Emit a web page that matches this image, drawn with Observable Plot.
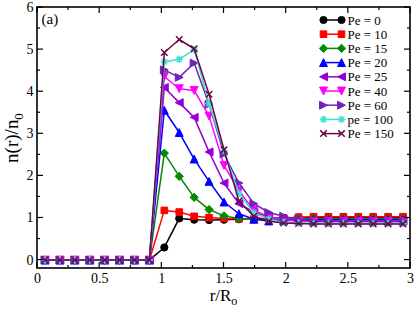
<!DOCTYPE html>
<html><head><meta charset="utf-8">
<script src="https://cdn.jsdelivr.net/npm/d3@7"></script>
<script src="https://cdn.jsdelivr.net/npm/@observablehq/plot@0.6"></script>
<style>html,body{margin:0;padding:0;background:#fff}svg{display:block}</style>
</head><body><div id="chart"></div>
<script>
// r/R_o sample positions
const rValues = [0.06,0.18,0.30,0.42,0.54,0.66,0.78,0.90,1.02,1.14,1.26,1.38,1.50,1.62,1.74,1.86,1.98,2.10,2.22,2.34,2.46,2.58,2.70,2.82,2.94];
const Z = [0,0,0,0,0,0,0,0];
const pe0   = [...Z, 0.30,0.99,0.96,0.95,0.96,0.97,0.98,0.99,1.00,1.01, 1.02,1.02,1.02,1.02,1.02,1.02,1.02];
const pe10  = [...Z, 1.18,1.14,1.04,1.01,0.99,0.98,0.98,0.99,1.00,1.02, 1.03,1.03,1.03,1.03,1.03,1.03,1.03];
const pe15  = [...Z, 2.54,1.99,1.49,1.20,1.05,0.99,0.97,0.96,0.97,0.98, 0.98,0.98,0.98,0.98,0.98,0.98,0.98];
const pe20  = [...Z, 3.56,3.03,2.40,1.87,1.38,1.10,0.97,0.93,0.94,0.95, 0.96,0.96,0.96,0.96,0.96,0.96,0.96];
const pe25  = [...Z, 4.10,3.74,3.39,2.57,1.83,1.34,1.14,1.02,0.96,0.94, 0.93,0.93,0.93,0.93,0.93,0.93,0.93];
const pe40  = [...Z, 4.36,4.07,4.03,3.42,2.25,1.65,1.18,1.03,0.95,0.92, 0.91,0.91,0.91,0.91,0.91,0.91,0.91];
const pe60  = [...Z, 4.52,4.34,4.68,3.70,2.52,1.83,1.34,1.13,1.04,0.96, 0.92,0.92,0.92,0.92,0.92,0.92,0.92];
const pe100 = [...Z, 4.71,4.77,5.00,3.72,2.60,1.58,1.12,0.97,0.90,0.88, 0.87,0.87,0.87,0.87,0.87,0.87,0.87];
const pe150 = [...Z, 4.93,5.24,5.02,3.94,2.62,1.40,1.04,0.92,0.88,0.87, 0.86,0.86,0.86,0.86,0.86,0.86,0.86];

const seriesLabels = ["Pe = 0","Pe = 10","Pe = 15","Pe = 20","Pe = 25","Pe = 40","Pe = 60","pe = 100","Pe = 150"];
const seriesValues = [pe0,pe10,pe15,pe20,pe25,pe40,pe60,pe100,pe150];
const seriesColors = ["#000000","#ff0000","#008b00","#0000ff","#9400d3","#ff00ff","#7221bc","#40e0d0","#670748"];
const seriesSymbols = ["circle","square","diamond","triangleUp","triangleLeft","triangleDown","triangleRight","asterisk","times"];

const xMajor = [0,0.5,1,1.5,2,2.5,3];
const xMinor = [0.25,0.75,1.25,1.75,2.25,2.75];
const yMajor = [0,1,2,3,4,5,6];
const yMinor = [0.5,1.5,2.5,3.5,4.5,5.5];

function makeSymbol(kind){
  return {draw(ctx, size){
    const h = Math.sqrt(size/Math.PI);
    switch(kind){
      case "circle": ctx.moveTo(h,0); ctx.arc(0,0,h,0,2*Math.PI); break;
      case "square": {const s=h*0.92; ctx.rect(-s,-s,2*s,2*s); break;}
      case "diamond": ctx.moveTo(0,-h*1.15); ctx.lineTo(h*1.15,0); ctx.lineTo(0,h*1.15); ctx.lineTo(-h*1.15,0); ctx.closePath(); break;
      case "triangleUp": ctx.moveTo(0,-h*1.1); ctx.lineTo(h*1.1,h*1.1); ctx.lineTo(-h*1.1,h*1.1); ctx.closePath(); break;
      case "triangleDown": ctx.moveTo(0,h*1.1); ctx.lineTo(h*1.1,-h*1.1); ctx.lineTo(-h*1.1,-h*1.1); ctx.closePath(); break;
      case "triangleLeft": ctx.moveTo(-h*1.1,0); ctx.lineTo(h*1.1,-h*1.1); ctx.lineTo(h*1.1,h*1.1); ctx.closePath(); break;
      case "triangleRight": ctx.moveTo(h*1.1,0); ctx.lineTo(-h*1.1,-h*1.1); ctx.lineTo(-h*1.1,h*1.1); ctx.closePath(); break;
      case "asterisk": {const a=h*1.05, b=a*0.7071; ctx.moveTo(-a,0); ctx.lineTo(a,0); ctx.moveTo(0,-a); ctx.lineTo(0,a); ctx.moveTo(-b,-b); ctx.lineTo(b,b); ctx.moveTo(-b,b); ctx.lineTo(b,-b); break;}
      case "times": {const b=h*0.9; ctx.moveTo(-b,-b); ctx.lineTo(b,b); ctx.moveTo(-b,b); ctx.lineTo(b,-b); break;}
    }
  }};
}
const strokedOnly = new Set(["asterisk","times"]);

const series = seriesLabels.map((label,i)=>({
  label, color: seriesColors[i], kind: seriesSymbols[i], symbol: makeSymbol(seriesSymbols[i]),
  rows: rValues.map((r,j)=>({r, n: seriesValues[i][j]}))
}));

const marks = [];
for (const s of series) {
  marks.push(Plot.line(s.rows, {x:"r", y:"n", stroke:s.color, strokeWidth:1.5}));
  const so = strokedOnly.has(s.kind);
  marks.push(Plot.dot(s.rows, {x:"r", y:"n", symbol:s.symbol, r:3.6,
    fill: so ? "none" : s.color, stroke: s.color, strokeWidth: so ? 1.5 : 1}));
}
marks.push(
  Plot.axisX(xMajor, {anchor:"bottom", tickSize:0, tickPadding:5, label:null, tickFormat:d=>String(d)}),
  Plot.axisY(yMajor, {anchor:"left", tickSize:0, tickPadding:4, label:null, tickFormat:d=>String(d)})
);

const chart = Plot.plot({
  width:415, height:309,
  marginLeft:37, marginRight:5, marginTop:7, marginBottom:41,
  x:{domain:[0,3]},
  y:{domain:[-0.2,6]},
  style:{fontFamily:"'Liberation Serif', serif", fontSize:"14px", color:"black", background:"white"},
  marks
});
document.getElementById("chart").appendChild(chart);

const svg = d3.select(chart);
const sx = chart.scale("x"), sy = chart.scale("y");
const pL = Math.min(...sx.range), pR = Math.max(...sx.range), pT = Math.min(...sy.range), pB = Math.max(...sy.range);
const tg = svg.append("g").attr("stroke","black").attr("stroke-width",1.2);
function tick(a,b,c,d){ tg.append("line").attr("x1",a).attr("y1",b).attr("x2",c).attr("y2",d); }
for (const v of xMajor) { const px = sx.apply(v); tick(px,pB,px,pB-6); tick(px,pT,px,pT+6); }
for (const v of xMinor) { const px = sx.apply(v); tick(px,pB,px,pB-3); tick(px,pT,px,pT+3); }
for (const v of yMajor) { const py = sy.apply(v); tick(pL,py,pL+6,py); tick(pR,py,pR-6,py); }
for (const v of yMinor) { const py = sy.apply(v); tick(pL,py,pL+3,py); tick(pR,py,pR-3,py); }
svg.append("rect").attr("x",pL).attr("y",pT).attr("width",pR-pL).attr("height",pB-pT)
  .attr("fill","none").attr("stroke","black").attr("stroke-width",1.6);

const font = "'Liberation Serif', serif";
// axis labels
const xl = svg.append("text").attr("x",223.5).attr("y",301).attr("text-anchor","middle")
  .attr("font-family",font).attr("font-size",17).attr("fill","black");
xl.append("tspan").text("r/R");
xl.append("tspan").attr("font-size",12).attr("dy",4).text("o");
const yl = svg.append("text").attr("transform","translate(18,138) rotate(-90)").attr("text-anchor","middle")
  .attr("font-family",font).attr("font-size",19).attr("fill","black");
yl.append("tspan").text("n(r)/n");
yl.append("tspan").attr("font-size",13).attr("dy",5).text("0");
// panel tag
svg.append("text").attr("x",41.5).attr("y",24).attr("text-anchor","start").attr("font-family",font).attr("font-size",15).attr("fill","black").text("(a)");
// legend
const lg = svg.append("g").attr("text-anchor","start");
series.forEach((s,i)=>{
  const y = 20 + i*14.2;
  const g = lg.append("g");
  g.append("line").attr("x1",323.5).attr("x2",341.5).attr("y1",y).attr("y2",y).attr("stroke",s.color).attr("stroke-width",1.5);
  const so = strokedOnly.has(s.kind);
  for (const x of [323.5,341.5]) {
    const p = d3.path(); s.symbol.draw(p, Math.PI*3.6*3.6);
    g.append("path").attr("d",p.toString()).attr("transform",`translate(${x},${y})`)
      .attr("fill", so ? "none" : s.color).attr("stroke", s.color).attr("stroke-width", so ? 1.5 : 1);
  }
  g.append("text").attr("x",347.5).attr("y",y+4.5).attr("text-anchor","start").attr("font-family",font).attr("font-size",13).attr("fill","black").text(s.label);
});
</script>
</body></html>
